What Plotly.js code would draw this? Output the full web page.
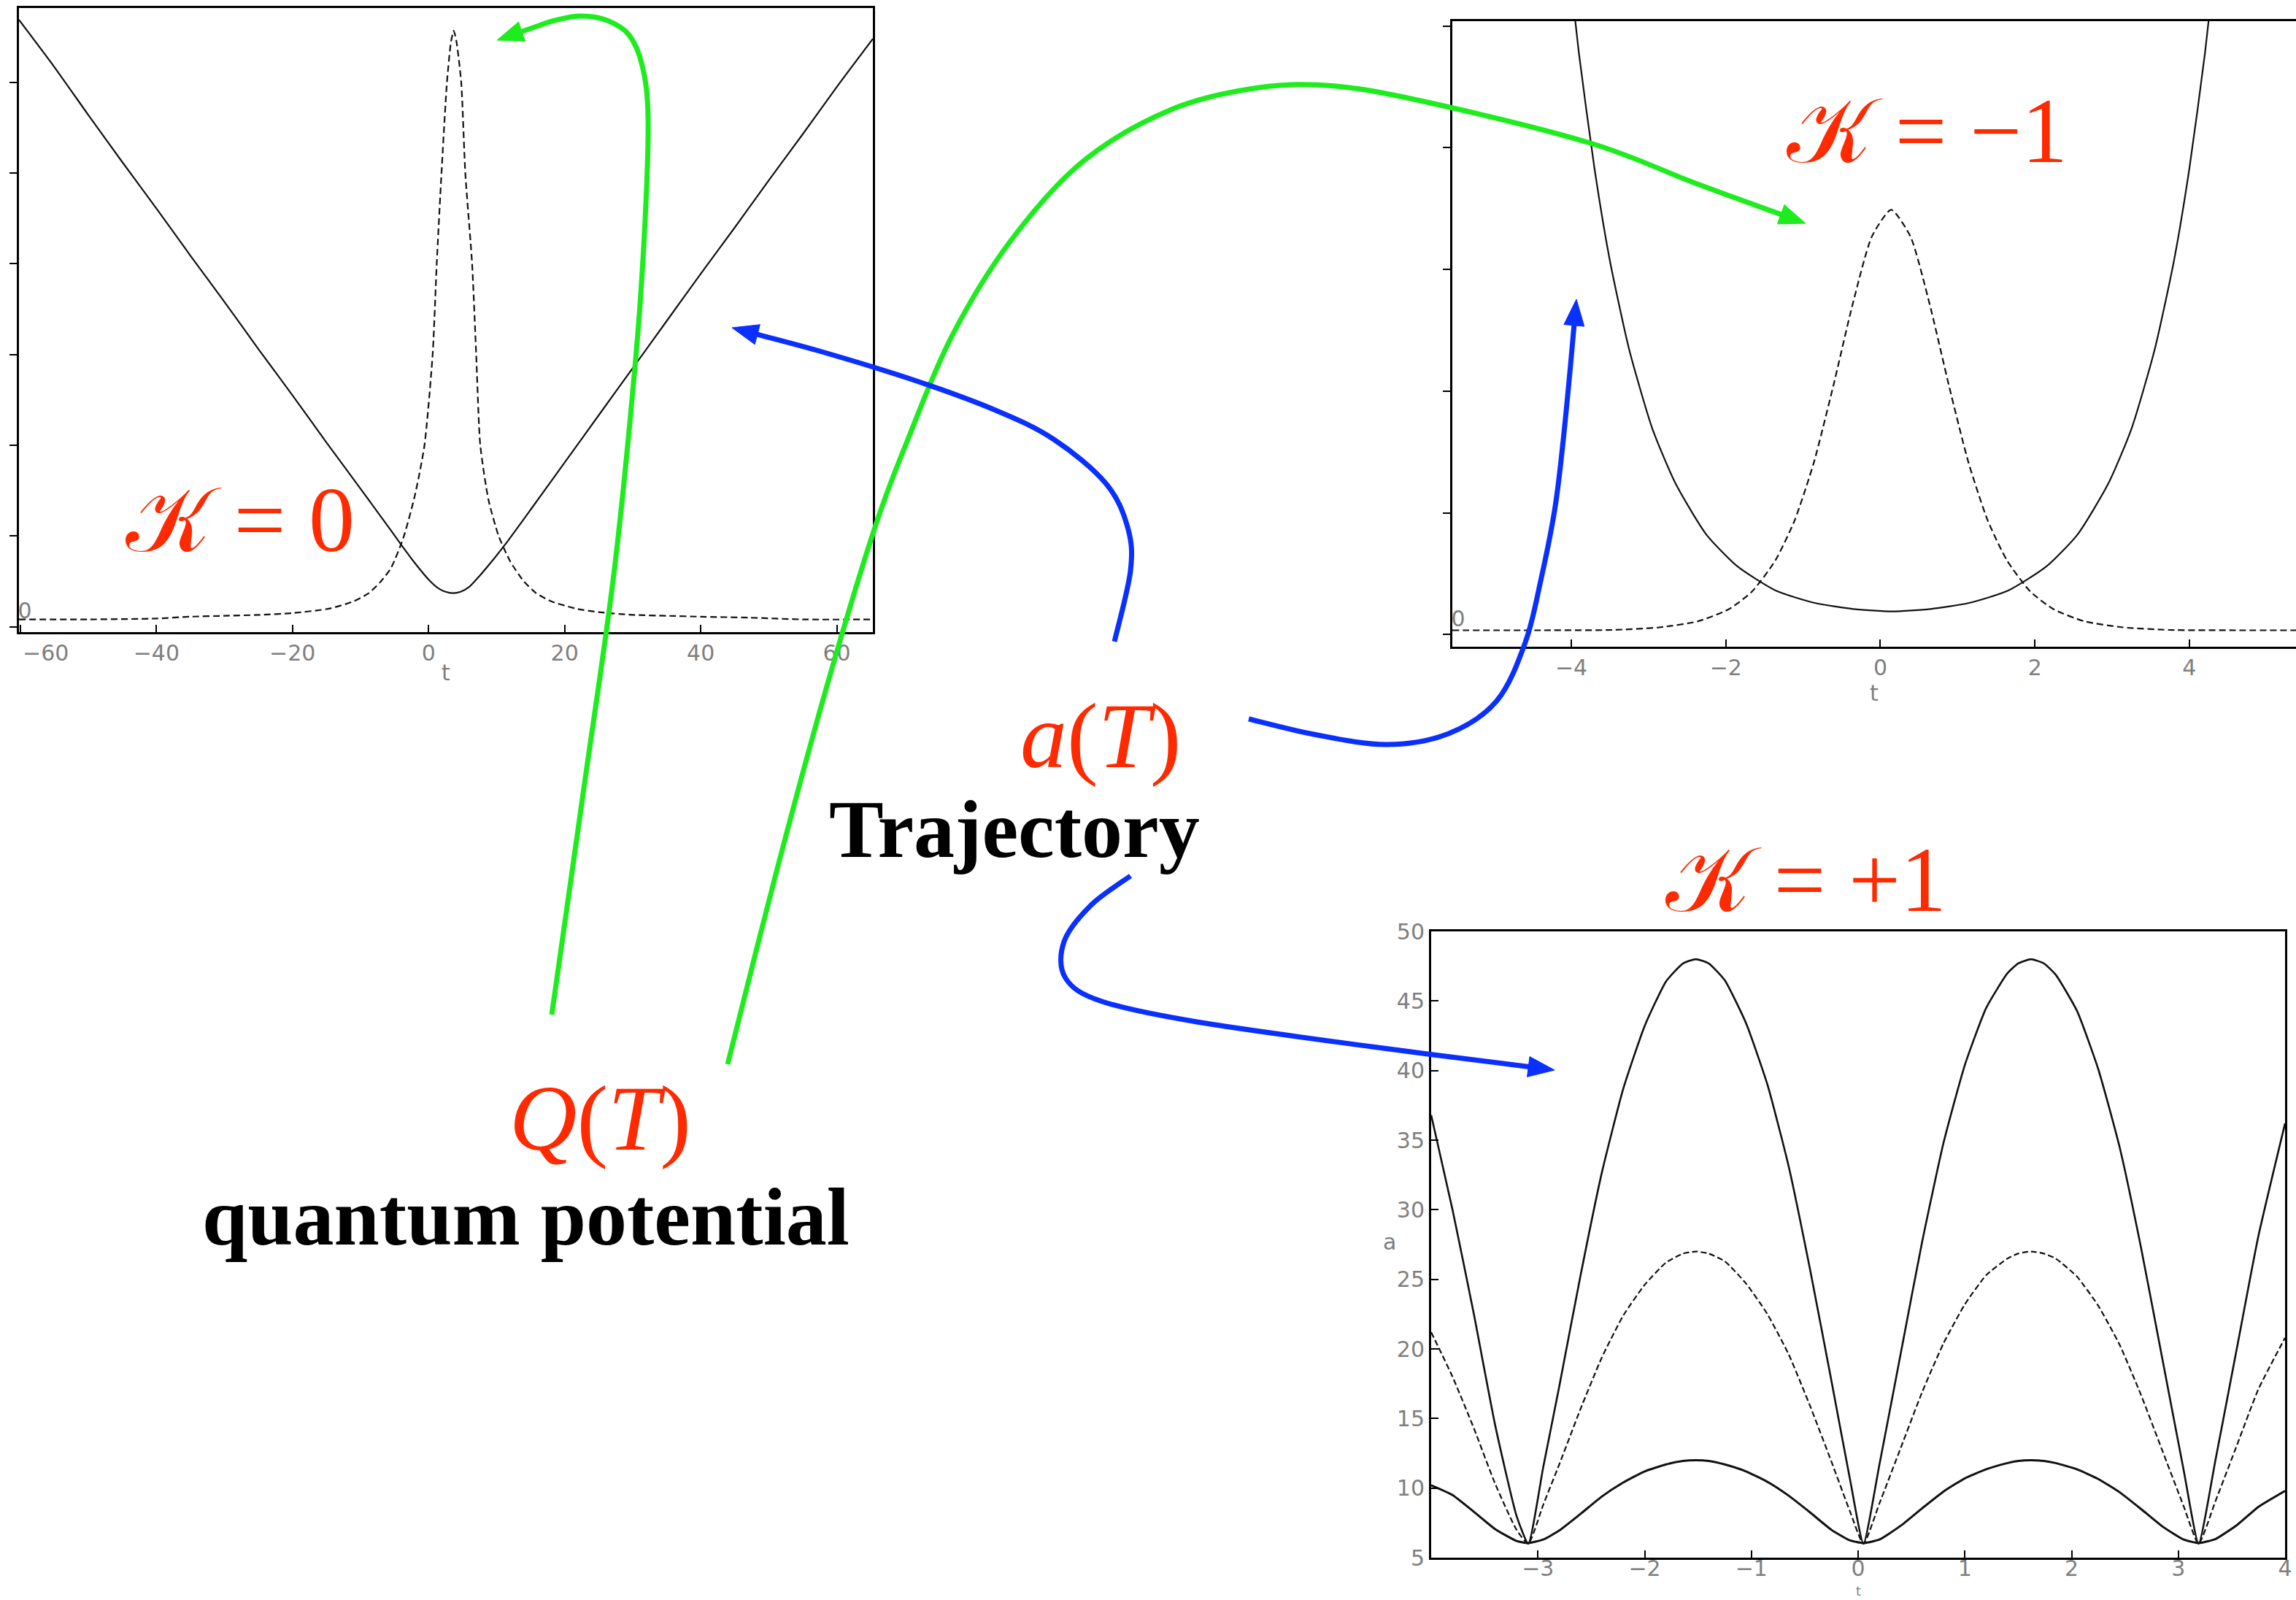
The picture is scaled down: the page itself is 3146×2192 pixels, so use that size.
<!DOCTYPE html>
<html>
<head>
<meta charset="utf-8">
<script src="https://cdn.plot.ly/plotly-3.0.1.min.js"></script>
<style>
  html, body { margin: 0; padding: 0; background: #ffffff; }
  #chart { width: 3146px; height: 2192px; }
</style>
</head>
<body>
<div id="chart"></div>
<script>
// ---- K = 0 : trajectory a(t) (solid) and quantum potential Q(t) (dashed) ----
const k0TrajT = [-60.2, -55, -50, -45, -40, -35, -30, -25, -20, -15, -10, -6, -4, -2, 0, 1.5, 2.5, 3.6, 4.7, 6, 7.5, 9.3, 11.3, 15, 20, 25, 30, 35, 40, 45, 50, 55, 60, 65.3];
const k0TrajA = [6.69, 6.17, 5.64, 5.12, 4.61, 4.09, 3.58, 3.06, 2.55, 2.03, 1.52, 1.11, 0.90, 0.70, 0.52, 0.42, 0.385, 0.37, 0.385, 0.44, 0.56, 0.72, 0.91, 1.29, 1.81, 2.33, 2.85, 3.37, 3.89, 4.40, 4.92, 5.43, 5.95, 6.48];
const k0QT = [-60.2, -50, -40, -35, -30, -25, -20, -14.5, -11, -8.8, -7, -5.5, -3.7, -2, -0.6, 0.6, 1.2, 1.9, 2.7, 3.3, 3.7, 4.1, 4.8, 5.4, 6.4, 7.0, 7.6, 8.8, 10.3, 12, 14, 15.8, 18, 21.6, 25, 30, 35, 40, 47, 55, 65.3];
const k0QV = [0.08, 0.08, 0.09, 0.11, 0.12, 0.13, 0.15, 0.20, 0.28, 0.37, 0.50, 0.65, 0.98, 1.45, 2.0, 3.0, 4.0, 5.0, 6.0, 6.45, 6.57, 6.45, 6.0, 5.0, 4.0, 3.0, 2.0, 1.4, 1.0, 0.72, 0.5, 0.37, 0.28, 0.2, 0.16, 0.13, 0.12, 0.11, 0.1, 0.08, 0.08];
const k0XTicks = [-60, -40, -20, 0, 20, 40, 60];
const k0XLabels = ['', '−40', '−20', '0', '20', '40', '60'];
const k0EdgeLabel = '−60';
const k0YTicks = [0, 1, 2, 3, 4, 5, 6];

// ---- K = -1 ----
const km1TrajT = [-4.1, -3.9, -3.7, -3.5, -3.25, -2.95, -2.65, -2.25, -1.85, -1.35, -0.85, -0.35, 0.15, 0.65, 1.15, 1.65, 2.15, 2.55, 2.95, 3.25, 3.55, 3.8, 4.0, 4.2, 4.4];
const km1TrajA = [5.95, 4.77, 3.83, 3.07, 2.34, 1.69, 1.24, 0.82, 0.56, 0.36, 0.26, 0.21, 0.19, 0.21, 0.26, 0.36, 0.56, 0.82, 1.24, 1.69, 2.34, 3.07, 3.83, 4.77, 5.95];
const km1QT = [-5.54, -4.36, -3.46, -2.86, -2.36, -1.96, -1.66, -1.36, -1.11, -0.86, -0.61, -0.36, -0.11, 0.14, 0.39, 0.64, 0.89, 1.14, 1.39, 1.64, 1.94, 2.24, 2.64, 3.14, 3.74, 4.64, 5.38];
const km1QV = [0.035, 0.035, 0.038, 0.059, 0.109, 0.209, 0.354, 0.608, 0.937, 1.415, 2.04, 2.71, 3.27, 3.49, 3.27, 2.71, 2.04, 1.415, 0.937, 0.608, 0.354, 0.209, 0.109, 0.059, 0.038, 0.035, 0.035];
const km1XTicks = [-4, -2, 0, 2, 4];
const km1YTicks = [0, 1, 2, 3, 4, 5];

// ---- K = +1 : three trajectories a(t) ----
const kp1T = [-4.0, -3.8, -3.6, -3.4, -3.2, -3.09, -2.95, -2.8, -2.6, -2.4, -2.2, -2.0, -1.8, -1.64, -1.52, -1.40, -1.25, -1.05, -0.85, -0.65, -0.45, -0.25, -0.08, 0.05, 0.2, 0.4, 0.6, 0.8, 1.0, 1.2, 1.4, 1.50, 1.62, 1.74, 1.85, 2.05, 2.25, 2.45, 2.65, 2.85, 3.05, 3.19, 3.35, 3.55, 3.75, 4.0];
const kp1Top = [36.8, 30.0, 22.5, 14.5, 8.0, 6.0, 11.5, 17.3, 25.3, 32.7, 38.7, 43.2, 46.4, 47.7, 48.0, 47.7, 46.5, 43.4, 39.0, 33.1, 25.7, 17.7, 10.8, 6.0, 11.7, 19.7, 27.7, 34.8, 40.4, 44.5, 47.0, 47.7, 48.0, 47.7, 46.9, 44.3, 40.1, 34.5, 27.3, 19.3, 11.3, 6.0, 12.1, 20.1, 28.1, 36.2];
const kp1Mid = [21.2, 18.0, 14.3, 10.3, 7.0, 6.0, 8.8, 11.7, 15.7, 19.4, 22.4, 24.6, 26.2, 26.85, 27.0, 26.85, 26.3, 24.7, 22.5, 19.6, 15.9, 11.9, 8.4, 6.0, 8.9, 12.9, 16.9, 20.4, 23.2, 25.3, 26.5, 26.85, 27.0, 26.85, 26.5, 25.2, 23.1, 20.3, 16.7, 12.7, 8.7, 6.0, 9.1, 13.1, 17.1, 20.8];
const kp1Low = [10.2, 9.5, 8.3, 7.05, 6.2, 6.05, 6.3, 6.95, 8.15, 9.4, 10.4, 11.2, 11.7, 11.95, 12.0, 11.95, 11.7, 11.2, 10.45, 9.45, 8.25, 7.0, 6.25, 6.05, 6.3, 7.3, 8.55, 9.75, 10.7, 11.35, 11.8, 11.95, 12.0, 11.95, 11.8, 11.35, 10.65, 9.7, 8.5, 7.25, 6.3, 6.05, 6.35, 7.35, 8.65, 9.8];
const kp1XTicks = [-3, -2, -1, 0, 1, 2, 3, 4];
const kp1YTicks = [5, 10, 15, 20, 25, 30, 35, 40, 45, 50];

// ---- page geometry ----
const W = 3146, H = 2192;
const px = x => x / W;
const py = y => 1 - y / H;

const RED = '#ff2a00';
const GREEN = '#1eec1e';
const BLUE = '#0a30ff';
const INK = '#111111';

const tickFont = { family: 'DejaVu Sans', size: 30, color: '#7f7f7f' };
const titleFont = { family: 'DejaVu Sans', size: 30, color: '#7f7f7f' };

function axis(extra) {
  return Object.assign({
    showline: true, linecolor: '#000', linewidth: 3,
    showgrid: false, zeroline: false,
    tickcolor: '#000', tickwidth: 2, ticklen: 10,
    tickfont: tickFont, fixedrange: true, ticklabeloverflow: 'allow'
  }, extra);
}

function blanksExceptZero(vals) {
  return vals.map(v => (v === 0 ? '0' : ''));
}

const lineTrace = (x, y, xa, ya, style) => ({
  x: x, y: y, xaxis: xa, yaxis: ya, type: 'scatter', mode: 'lines',
  hoverinfo: 'skip', showlegend: false,
  line: Object.assign({ color: INK, shape: 'spline', smoothing: 0.6 }, style)
});

const data = [
  lineTrace(k0TrajT, k0TrajA, 'x', 'y', { width: 2.2 }),
  lineTrace(k0QT, k0QV, 'x', 'y', { width: 2.2, dash: '9px,5px' }),
  lineTrace(km1TrajT, km1TrajA, 'x2', 'y2', { width: 2.2 }),
  lineTrace(km1QT, km1QV, 'x2', 'y2', { width: 2.2, dash: '9px,5px' }),
  lineTrace(kp1T, kp1Top, 'x3', 'y3', { width: 2.6, smoothing: 0.5 }),
  lineTrace(kp1T, kp1Mid, 'x3', 'y3', { width: 2.2, dash: '8px,4px', smoothing: 0.5 }),
  lineTrace(kp1T, kp1Low, 'x3', 'y3', { width: 3, smoothing: 0.5 })
];

// ---- hand-drawn style arrows (page pixel control points) ----
function smoothPath(pts) {
  let d = 'M' + px(pts[0][0]) + ',' + py(pts[0][1]);
  for (let i = 0; i < pts.length - 1; i++) {
    const p0 = pts[Math.max(i - 1, 0)], p1 = pts[i], p2 = pts[i + 1], p3 = pts[Math.min(i + 2, pts.length - 1)];
    const c1 = [p1[0] + (p2[0] - p0[0]) / 6, p1[1] + (p2[1] - p0[1]) / 6];
    const c2 = [p2[0] - (p3[0] - p1[0]) / 6, p2[1] - (p3[1] - p1[1]) / 6];
    d += ' C' + px(c1[0]) + ',' + py(c1[1]) + ' ' + px(c2[0]) + ',' + py(c2[1]) + ' ' + px(p2[0]) + ',' + py(p2[1]);
  }
  return d;
}

function arrowShapes(pts, color, width, headLen, headHalf) {
  const n = pts.length;
  const tip = pts[n - 1], prev = pts[n - 2];
  let dx = tip[0] - prev[0], dy = tip[1] - prev[1];
  const len = Math.hypot(dx, dy); dx /= len; dy /= len;
  const body = pts.slice(0, n - 1).concat([[tip[0] - dx * headLen * 0.7, tip[1] - dy * headLen * 0.7]]);
  const bx = tip[0] - dx * headLen, by = tip[1] - dy * headLen;
  const l = [bx - dy * headHalf, by + dx * headHalf];
  const r = [bx + dy * headHalf, by - dx * headHalf];
  return [
    { type: 'path', xref: 'paper', yref: 'paper', layer: 'above', path: smoothPath(body),
      line: { color: color, width: width } },
    { type: 'path', xref: 'paper', yref: 'paper', layer: 'above',
      path: 'M' + px(tip[0]) + ',' + py(tip[1]) + ' L' + px(l[0]) + ',' + py(l[1]) + ' L' + px(r[0]) + ',' + py(r[1]) + ' Z',
      fillcolor: color, line: { color: color, width: 1 } }
  ];
}

const greenToFlat = [[756,1390],[800,1080],[842,779],[872,480],[884,300],[888,160],[880,90],[862,48],[832,28],[796,22],[760,28],[730,38],[681,55]];
const greenToOpen = [[997,1458],[1065,1190],[1133,940],[1198,725],[1244,602],[1304,461],[1384,331],[1484,221],[1605,150],[1725,120],[1830,118],[1960,141],[2179,196],[2323,251],[2474,306]];
const blueToFlat = [[1527,879],[1549,782],[1545,722],[1515,662],[1444,602],[1364,562],[1250,520],[1123,481],[1003,449]];
const blueToOpen = [[1711,985],[1800,1006],[1900,1020],[1985,1005],[2051,960],[2090,880],[2111,796],[2130,700],[2141,612],[2152,500],[2160,410]];
const blueToClosed = [[1549,1200],[1495,1240],[1458,1290],[1460,1340],[1510,1372],[1640,1400],[1880,1434],[2130,1466]];

const shapes = [].concat(
  arrowShapes(greenToFlat, GREEN, 7, 36, 14),
  arrowShapes(greenToOpen, GREEN, 7, 36, 14),
  arrowShapes(blueToFlat, BLUE, 7, 36, 14),
  arrowShapes(blueToOpen, BLUE, 7, 36, 14),
  arrowShapes(blueToClosed, BLUE, 7, 36, 14)
);

// ---- labels ----
const kFont = { family: 'Liberation Serif, DejaVu Serif, serif', size: 126, color: RED };
const fnFont = { family: 'Liberation Serif, DejaVu Serif, serif', size: 128, color: RED };
const boldFont = { family: 'Liberation Serif, serif', size: 112, color: '#000' };
const note = (text, x, y, font) => ({
  text: text, x: px(x), y: py(y), xref: 'paper', yref: 'paper',
  xanchor: 'center', yanchor: 'middle', showarrow: false, font: font
});

const annotations = [
  note('𝒦 = 0', 329, 712, kFont),
  note('𝒦 = −1', 2640, 180, kFont),
  note('𝒦 = +1', 2474, 1205, kFont),
  note('<i>a</i>(<i>T</i>)', 1508, 1008, fnFont),
  note('<b>Trajectory</b>', 1390, 1136, boldFont),
  note('<i>Q</i>(<i>T</i>)', 822, 1532, fnFont),
  note('<b>quantum potential</b>', 720, 1667, boldFont),
  note(k0EdgeLabel, 62, 894, tickFont),
  note('a', 1904, 1701, titleFont),
  note('t', 2546, 2179, { family: 'DejaVu Sans', size: 18, color: '#7f7f7f' })
];

const layout = {
  width: W, height: H,
  margin: { l: 0, r: 0, t: 0, b: 0, pad: 0 },
  paper_bgcolor: '#ffffff', plot_bgcolor: 'rgba(0,0,0,0)',
  showlegend: false,
  xaxis: axis({ domain: [px(26), px(1196)], range: [-60.2, 65.3], anchor: 'y', mirror: true,
    tickvals: k0XTicks, ticktext: k0XLabels, ticks: 'inside', title: { text: 't', font: titleFont, standoff: 0 } }),
  yaxis: axis({ domain: [py(866), py(11)], range: [-0.06, 6.82], anchor: 'x', mirror: true,
    tickvals: k0YTicks, ticktext: blanksExceptZero(k0YTicks), ticks: 'outside', ticklabelposition: 'inside top' }),
  xaxis2: axis({ domain: [px(1990), 1], range: [-5.54, 5.38], anchor: 'y2', mirror: true,
    tickvals: km1XTicks, ticks: 'inside', title: { text: 't', font: titleFont, standoff: 0 } }),
  yaxis2: axis({ domain: [py(886), py(29)], range: [-0.10, 5.04], anchor: 'x2', mirror: false,
    tickvals: km1YTicks, ticktext: blanksExceptZero(km1YTicks), ticks: 'outside', ticklabelposition: 'inside top' }),
  xaxis3: axis({ domain: [px(1961), px(3131)], range: [-4, 4], anchor: 'y3', mirror: true,
    tickvals: kp1XTicks, ticks: 'inside', ticklabelstandoff: -14 }),
  yaxis3: axis({ domain: [py(2134), py(1276)], range: [5, 50], anchor: 'x3', mirror: true,
    tickvals: kp1YTicks, ticks: 'inside' }),
  shapes: shapes,
  annotations: annotations
};

Plotly.newPlot('chart', data, layout, { staticPlot: true, displayModeBar: false });
</script>
</body>
</html>
